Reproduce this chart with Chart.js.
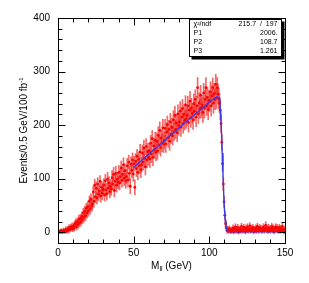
<!DOCTYPE html>
<html><head><meta charset="utf-8">
<script src="https://cdn.jsdelivr.net/npm/chart.js@4"></script>
<style>html,body{margin:0;padding:0;background:#fff}#wrap{width:309px;height:283px;position:relative}</style>
</head><body><div id="wrap"><canvas id="c" width="309" height="283"></canvas></div>
<script>
// Histogram: 0.5 GeV bins from 0 to 150 GeV
const binWidth = 0.5;
const binStart = 0;
const counts = [
  1,0,2,1,3,0,2,4,1,3,
  5,2,6,4,8,5,9,7,11,6,
  12,8,15,18,10,20,14,24,17,26,
  20,30,24,36,28,40,31,45,36,48,
  40,58,44,62,49,53,75,58,88,66,
  82,64,90,71,77,95,68,84,73,80,
  88,70,96,79,72,99,83,92,76,86,
  81,102,90,108,78,95,110,88,99,93,
  112,92,104,120,97,108,126,101,115,96,
  104,124,98,131,110,86,127,116,135,109,
  128,84,133,119,142,112,136,124,150,117,
  126,148,131,157,138,122,160,135,151,140,
  152,137,166,146,175,140,161,154,172,149,
  170,152,181,163,190,158,176,167,195,165,
  172,194,165,187,201,176,192,170,206,183,
  196,180,210,188,218,192,204,186,221,199,
  206,226,196,215,231,203,220,209,238,212,
  218,236,205,228,245,214,232,222,210,240,
  226,248,215,236,270,221,242,230,256,233,
  238,224,260,232,248,270,236,252,229,246,
  244,262,236,255,270,241,259,248,276,250,
  270,258,250,241,228,203,168,128,90,57,
  32,16,8,3,6,2,7,4,1,5,
  3,8,1,6,10,2,5,9,0,4,
  7,2,11,5,3,9,6,1,8,4,
  10,3,6,12,2,7,5,9,1,6,
  4,8,2,11,6,3,9,5,7,2,
  6,10,3,7,13,4,8,2,9,5,
  3,7,11,4,8,1,6,10,5,9,
  2,6,9,3,7,4,11,5,1,6
];
const errors = [
  3,2,3,3,4,2,3,4,3,4,
  5,4,5,5,6,5,6,5,6,5,
  6,6,7,7,6,7,7,8,7,8,
  8,8,8,9,9,9,9,9,9,10,
  10,10,10,10,10,11,11,11,11,11,
  12,11,12,12,12,11,12,12,12,12,
  12,12,12,12,12,13,12,12,12,13,
  12,13,12,13,12,13,13,13,13,12,
  13,13,13,13,13,14,13,14,13,14,
  13,14,14,13,14,14,14,14,13,14,
  14,14,14,15,13,14,14,15,14,15,
  14,15,15,15,15,15,15,15,15,15,
  15,16,15,16,15,16,15,16,15,16,
  16,16,16,16,16,16,16,17,16,16,
  16,17,16,17,16,17,17,17,16,17,
  17,17,17,17,17,17,17,17,17,18,
  17,18,17,18,17,18,18,18,17,18,
  18,18,18,17,18,18,18,18,18,18,
  18,18,18,18,19,18,19,18,18,19,
  18,19,18,19,18,19,18,19,19,19,
  18,19,19,19,18,19,19,19,19,19,
  19,19,19,18,18,17,15,14,12,10,
  8,7,6,5,5,4,5,5,3,5,
  5,6,4,5,6,4,5,6,3,5,
  5,4,6,5,5,6,5,4,6,5,
  6,5,5,6,4,6,5,6,4,5,
  5,6,4,6,5,5,6,5,6,4,
  5,6,5,6,7,5,6,4,6,5,
  5,6,6,5,6,4,5,6,5,6,
  4,5,6,5,6,5,6,5,4,5
];
// Fit curve (blue)
const fitX = [50,60,70,80,90,100,105,106,106.5,107,107.5,108,108.5,109,109.5,110,110.5,111,111.5,112,113,150];
const fitY = [121,146,170,195,219,243,253,252,250,240,222,190,148,110,72,42,22,10,5,2,1,1];
const xTickValues = [0,50,100,150];
const yTickValues = [0,100,200,300,400];
const statLabels = ['χ²/ndf','P1','P2','P3'];
const statValues = ['215.7  /  197','2006.','108.7','1.261'];

const centers = counts.map((_, i) => binStart + (i + 0.5) * binWidth);
const pts = counts.map((v, i) => ({x: centers[i], y: v}));
const bars = counts.map((v, i) => ({x: centers[i], y: [v - errors[i], v + errors[i]]}));
const fit = fitX.map((x, i) => ({x, y: fitY[i]}));

const FONT = 'Liberation Sans, Arial, Helvetica, sans-serif';

const decor = {
  id: 'decor',
  afterDraw(chart) {
    const ctx = chart.ctx, xs = chart.scales.x, ys = chart.scales.y, a = chart.chartArea;
    ctx.save();
    ctx.strokeStyle = '#000'; ctx.lineWidth = 1;
    const L = Math.round(a.left) + 0.5, R = Math.round(a.right) + 0.5, T = Math.round(a.top) + 0.5, B = Math.round(a.bottom) + 0.5;
    ctx.strokeRect(L, T, R - L, B - T);
    ctx.beginPath();
    for (let v = 0; v <= 150; v += 10) {
      const px = Math.round(xs.getPixelForValue(v)) + 0.5;
      const len = (v % 50 === 0) ? 7 : 4;
      ctx.moveTo(px, B); ctx.lineTo(px, B - len);
      ctx.moveTo(px, T); ctx.lineTo(px, T + len);
    }
    for (let v = -20; v <= 400; v += 20) {
      const py = Math.round(ys.getPixelForValue(v)) + 0.5;
      const len = (v % 100 === 0) ? 7 : 4;
      ctx.moveTo(L, py); ctx.lineTo(L + len, py);
      ctx.moveTo(R, py); ctx.lineTo(R - len, py);
    }
    ctx.stroke();

    // axis titles
    ctx.fillStyle = '#000';
    ctx.textBaseline = 'alphabetic';
    const xt1 = 'M', xt2 = 'll', xt3 = ' (GeV)';
    ctx.font = '10px ' + FONT; const w1 = ctx.measureText(xt1).width, w3 = ctx.measureText(xt3).width;
    ctx.font = '7px ' + FONT; const w2 = ctx.measureText(xt2).width;
    let cx = (a.left + a.right) / 2 - (w1 + w2 + w3) / 2; const by = 269;
    ctx.font = '10px ' + FONT; ctx.textAlign = 'left'; ctx.fillText(xt1, cx, by); cx += w1;
    ctx.font = '7px ' + FONT; ctx.fillText(xt2, cx, by + 2); cx += w2;
    ctx.font = '10px ' + FONT; ctx.fillText(xt3, cx, by);

    ctx.save();
    ctx.translate(27, (a.top + a.bottom) / 2);
    ctx.rotate(-Math.PI / 2);
    const yt1 = 'Events/0.5 GeV/100 fb', yt2 = '-1';
    ctx.font = '10px ' + FONT; const u1 = ctx.measureText(yt1).width;
    ctx.font = '6px ' + FONT; const u2 = ctx.measureText(yt2).width;
    let sx = -(u1 + u2) / 2;
    ctx.font = '10px ' + FONT; ctx.fillText(yt1, sx, 0); sx += u1;
    ctx.font = '6px ' + FONT; ctx.fillText(yt2, sx, -4);
    ctx.restore();

    // stat box
    const bx = 189.5, bt = 19.5, bw = 92, bh = 37;
    ctx.fillStyle = '#000';
    ctx.fillRect(bx + 2, bt + 2, bw + 1, bh + 1);
    ctx.fillStyle = '#fff';
    ctx.fillRect(bx, bt, bw, bh);
    ctx.strokeRect(bx, bt, bw, bh);
    ctx.fillStyle = '#000';
    ctx.font = '7px ' + FONT;
    ctx.textBaseline = 'middle';
    statLabels.forEach((s, i) => {
      const yy = bt + 5 + i * 8.7;
      ctx.textAlign = 'left'; ctx.fillText(s, bx + 4, yy);
      ctx.textAlign = 'right'; ctx.fillText(statValues[i], bx + bw - 4, yy);
    });
    ctx.restore();
  }
};

new Chart(document.getElementById('c'), {
  type: 'scatter',
  data: {
    datasets: [
      {type: 'line', data: fit, borderColor: '#3a3ae6', borderWidth: 1.4, pointRadius: 0, tension: 0, order: 0, fill: false},
      {type: 'scatter', data: pts, pointRadius: 1.4, pointStyle: 'circle', backgroundColor: '#ff0000', borderWidth: 0, order: 1},
      {type: 'bar', data: bars, backgroundColor: 'rgba(240,40,40,0.7)', barThickness: 1, borderWidth: 0, order: 2, grouped: false}
    ]
  },
  options: {
    responsive: false, animation: false,
    layout: {padding: {left: 0, top: 18, right: 24, bottom: 0}},
    plugins: {legend: {display: false}, tooltip: {enabled: false}},
    scales: {
      x: {type: 'linear', min: 0, max: 150, offset: false,
          grid: {display: false, drawTicks: false}, border: {display: false},
          ticks: {color: '#000', font: {size: 10, family: FONT}, padding: 4, maxRotation: 0},
          afterBuildTicks: s => { s.ticks = xTickValues.map(v => ({value: v})); },
          afterFit: s => { s.height = 40; }},
      y: {type: 'linear', min: -20, max: 400,
          grid: {display: false, drawTicks: false}, border: {display: false},
          ticks: {color: '#000', font: {size: 10, family: FONT}, padding: 8},
          afterBuildTicks: s => { s.ticks = yTickValues.map(v => ({value: v})); },
          afterFit: s => { s.width = 58; }}
    }
  },
  plugins: [decor]
});
</script></body></html>
